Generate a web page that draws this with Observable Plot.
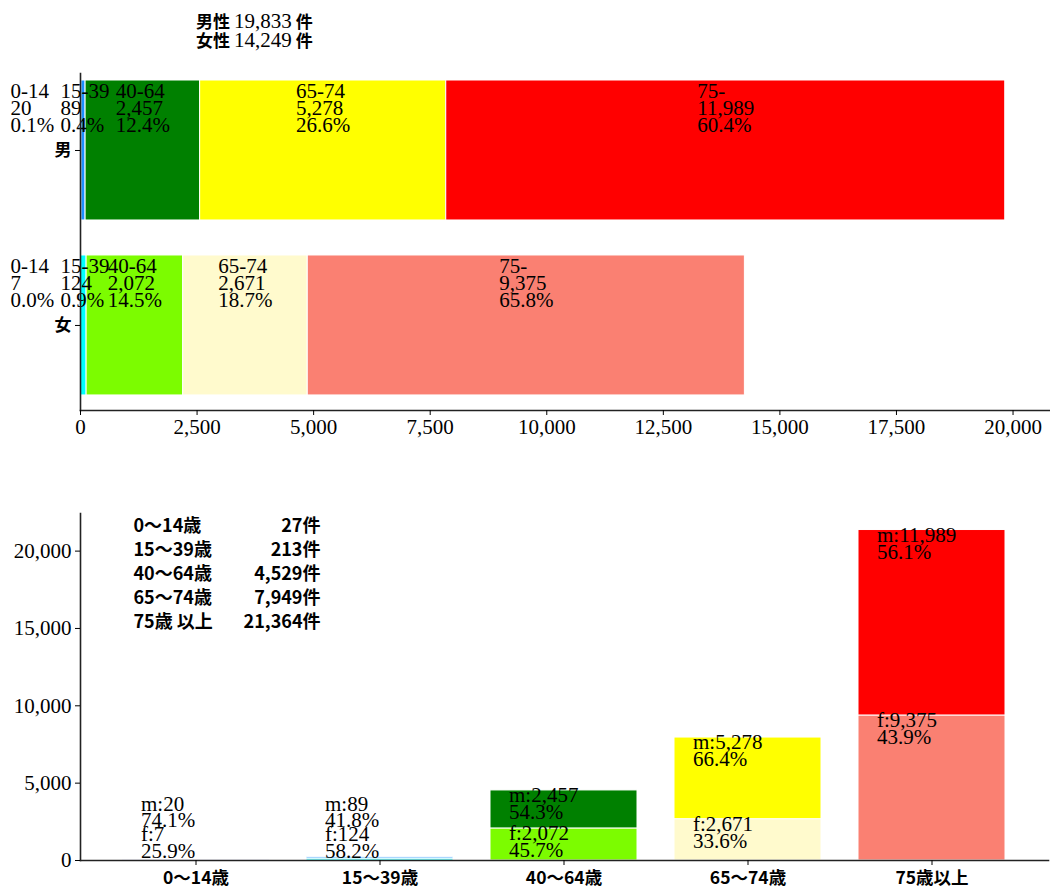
<!DOCTYPE html>
<html><head><meta charset="utf-8">
<script src="https://cdn.jsdelivr.net/npm/d3@7"></script>
<script src="https://cdn.jsdelivr.net/npm/@observablehq/plot@0.6"></script>
<style>
body{margin:0;background:#fff;}
#wrap{position:relative;width:1050px;height:889px;overflow:hidden;background:#fff;}
#title{position:absolute;left:196px;top:13px;line-height:16.7px;white-space:pre;z-index:5;color:#000;}
#title .jp{font-family:"Noto Sans CJK JP";font-weight:bold;font-size:17px;}
#title .num{font-family:"Liberation Serif";font-size:21px;}
#top{position:absolute;left:0;top:0;z-index:1;}
#bottom{position:absolute;left:0;top:450px;z-index:1;}
</style></head>
<body><div id="wrap"><div id="top"></div><div id="bottom"></div><div id="title"></div></div>
<script>
// ---- data ----
const ages = ["0-14", "15-39", "40-64", "65-74", "75-"];
const ageTicks = ["0〜14歳", "15〜39歳", "40〜64歳", "65〜74歳", "75歳以上"];
const legendLabels = ["0〜14歳", "15〜39歳", "40〜64歳", "65〜74歳", "75歳 以上"];
const sexes = ["男", "女"];
const sexNames = ["男性", "女性"];
const maleCounts = [20, 89, 2457, 5278, 11989];
const femaleCounts = [7, 124, 2072, 2671, 9375];
const maleColors = ["blue", "dodgerblue", "green", "yellow", "red"];
const femaleColors = ["deepskyblue", "cyan", "lawngreen", "lemonchiffon", "salmon"];
const xTicksTop = [0, 2500, 5000, 7500, 10000, 12500, 15000, 17500, 20000];
const yTicksBottom = [0, 5000, 10000, 15000, 20000];

// ---- helpers ----
const fmt = d3.format(",");
const pct = v => (v * 100).toFixed(1) + "%";
const serif = '"Liberation Serif", "DejaVu Serif", serif';
const gothic = '"Noto Sans CJK JP", sans-serif';
const ctx = document.createElement("canvas").getContext("2d");
function textWidth(s, font) { ctx.font = font; return ctx.measureText(s).width; }

// ---- title ----
const series = [maleCounts, femaleCounts];
const palettes = [maleColors, femaleColors];
document.getElementById("title").innerHTML = series.map((vals, si) =>
  `<span class="jp">${sexNames[si]}</span> <span class="num">${fmt(d3.sum(vals))}</span> <span class="jp">件</span>`
).join("<br>");

// ---- top chart ----
const xDomTop = [0, 20825], xRangeTop = [80, 1051];
const pxPerUnit = (xRangeTop[1] - xRangeTop[0]) / (xDomTop[1] - xDomTop[0]);
const labelFont = `21px ${serif}`;
const topRows = [];
series.forEach((vals, si) => {
  const total = d3.sum(vals);
  let acc = 0;
  vals.forEach((v, ai) => {
    const lines = [ages[ai], fmt(v), pct(v / total)];
    const maxW = d3.max(lines, l => textWidth(l, labelFont));
    const mid = acc + v / 2;
    topRows.push({
      si, ai, x1: acc, x2: acc + v, fill: palettes[si][ai],
      label: lines.join("\n"),
      lx: mid - (maxW / 2) / pxPerUnit
    });
    acc += v;
  });
});

const topPlot = Plot.plot({
  width: 1050, height: 450,
  marginTop: 73, marginBottom: 40, marginLeft: 80, marginRight: 0,
  x: {domain: xDomTop, range: xRangeTop},
  y: {domain: [-0.44, 1.486], range: [73, 410]},
  color: {type: "identity"},
  style: {background: "white", color: "black"},
  marks: [
    Plot.rectX(topRows, {x1: "x1", x2: "x2", y1: d => d.si - 0.4, y2: d => d.si + 0.4, fill: "fill", stroke: "white", strokeWidth: 1}),
    Plot.text(topRows.filter(d => d.ai >= 2), {x: "lx", y: d => d.si - 0.4, text: "label", textAnchor: "start", lineAnchor: "top", dy: 6, lineHeight: 0.8, fontFamily: serif, fontSize: 21, fill: "black"}),
    Plot.text(topRows.filter(d => d.ai === 0), {x: 0, y: d => d.si - 0.4, text: "label", textAnchor: "start", lineAnchor: "top", dx: -70, dy: 6, lineHeight: 0.8, fontFamily: serif, fontSize: 21, fill: "black"}),
    Plot.text(topRows.filter(d => d.ai === 1), {x: 0, y: d => d.si - 0.4, text: "label", textAnchor: "start", lineAnchor: "top", dx: -20, dy: 6, lineHeight: 0.8, fontFamily: serif, fontSize: 21, fill: "black"}),
    Plot.frame({anchor: "left", stroke: "#222", strokeWidth: 1.6}),
    Plot.frame({anchor: "bottom", stroke: "#222", strokeWidth: 1.6}),
    Plot.axisX({ticks: xTicksTop, tickFormat: fmt, tickSize: 5, tickPadding: 4, fontFamily: serif, fontSize: 21, label: null}),
    Plot.axisY({ticks: [0, 1], tickFormat: i => sexes[i], tickSize: 5, tickPadding: 4, fontFamily: gothic, fontWeight: "bold", fontSize: 17, label: null})
  ]
});
document.getElementById("top").appendChild(topPlot);

// ---- bottom chart ----
const bottomRows = [];
ages.forEach((a, ai) => {
  const f = femaleCounts[ai], m = maleCounts[ai], t = f + m;
  bottomRows.push({cat: ageTicks[ai], y1: 0, y2: f, fill: femaleColors[ai], label: `f:${fmt(f)}\n${pct(f / t)}`, ly: Math.max(f, 2000)});
  bottomRows.push({cat: ageTicks[ai], y1: f, y2: t, fill: maleColors[ai], label: `m:${fmt(m)}\n${pct(m / t)}`, ly: Math.max(t, 4000)});
});
const totals = maleCounts.map((m, i) => m + femaleCounts[i]);
const legendLeft = legendLabels.join("\n");
const legendRight = totals.map(t => fmt(t) + "件").join("\n");

const bottomPlot = Plot.plot({
  width: 1050, height: 439,
  marginTop: 63, marginBottom: 29, marginLeft: 80, marginRight: 2,
  x: {type: "band", domain: ageTicks, paddingInner: 0.2, paddingOuter: 0.23},
  y: {domain: [0, 22432]},
  color: {type: "identity"},
  style: {background: "white", color: "black"},
  marks: [
    Plot.barY(bottomRows, {x: "cat", y1: "y1", y2: "y2", fill: "fill", stroke: "white", strokeWidth: 1}),
    Plot.text(bottomRows, {x: "cat", y: "ly", text: "label", textAnchor: "start", lineAnchor: "top", dx: -55, dy: 0, lineHeight: 0.8, fontFamily: serif, fontSize: 21, fill: "black"}),
    Plot.text([legendLeft], {frameAnchor: "top-left", textAnchor: "start", lineAnchor: "top", dx: 53, dy: 1, lineHeight: 1.333, fontFamily: gothic, fontWeight: "bold", fontSize: 18, fill: "black"}),
    Plot.text([legendRight], {frameAnchor: "top-left", textAnchor: "end", lineAnchor: "top", dx: 240, dy: 1, lineHeight: 1.333, fontFamily: gothic, fontWeight: "bold", fontSize: 18, fill: "black"}),
    Plot.frame({anchor: "left", stroke: "#222", strokeWidth: 1.6}),
    Plot.frame({anchor: "bottom", stroke: "#222", strokeWidth: 1.6}),
    Plot.axisX({tickSize: 5, tickPadding: 6, fontFamily: gothic, fontWeight: "bold", fontSize: 17.5, label: null}),
    Plot.axisY({ticks: yTicksBottom, tickFormat: fmt, tickSize: 5, tickPadding: 4, fontFamily: serif, fontSize: 21, label: null})
  ]
});
document.getElementById("bottom").appendChild(bottomPlot);
</script>
</body></html>
